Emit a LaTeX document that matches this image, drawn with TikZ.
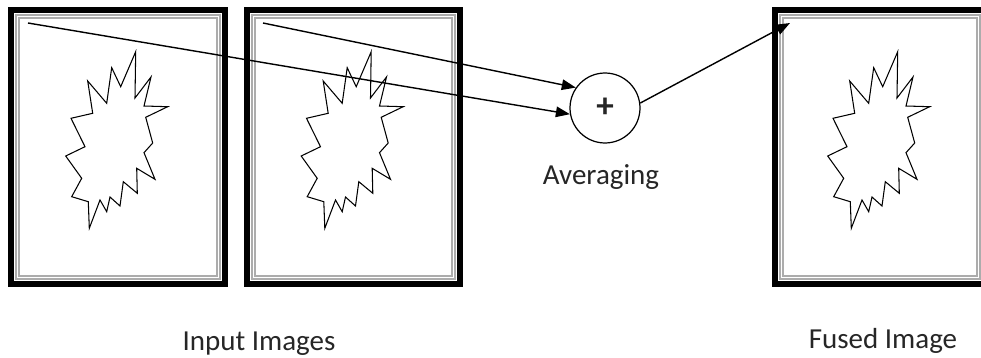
\documentclass[tikz,border=0pt]{standalone}
\usepackage{fontspec}
\setmainfont{Carlito}
\usetikzlibrary{arrows.meta,positioning}
\tikzset{frameout/.style={line width=3.4pt},
  framein/.style={draw=gray!65,line width=0.8pt},
  blob/.style={line width=0.6pt,line join=miter},
  arr/.style={-{Triangle[length=8pt,width=6pt]},line width=0.8pt},
  lbl/.style={font=\fontsize{16.5}{19}\selectfont,text=black!85,inner sep=0pt}}
% spiky blob, centred at (#1,#2), pixel units
\newcommand{\spikyblob}[2]{%
  \draw[blob,shift={(#1,#2)}] (17.7,-95.3)--(17,-49)--(33,-70)--(26,-41)--(49.7,-40.3)
    --(27.7,-29.7)--(34.7,-4)--(26,5.7)--(37,32.3)--(18.7,21.3)--(19.3,46.3)
    --(5.3,34.7)--(2,59)--(-8,50)--(-11.3,64.7)--(-18,53)--(-28.7,81.3)
    --(-29.7,54.7)--(-46.3,49.7)--(-36.3,31.3)--(-52.3,9)--(-33,-0.3)
    --(-47,-28.7)--(-25.3,-33.7)--(-30.3,-66)--(-11.3,-43.7)--(-6.3,-79.3)
    --(2.7,-60.3)--cycle;}

\begin{document}
\begin{tikzpicture}[x=0.02cm,y=-0.02cm]
\useasboundingbox (0,0) rectangle (981,358);
\clip (0,0) rectangle (981,358);
% picture frames: left edge / right edge
\foreach \xa/\xb in {8/228,244/463,772/988}{
  \pgfmathsetmacro{\xc}{(\xa+\xb)/2}
  \draw[frameout] (\xa+3,10) rectangle (\xb-3,284);
  \draw[framein] (\xa+8,15) rectangle (\xb-8,279);
  \draw[framein] (\xa+11,18) rectangle (\xb-11,276);
  \spikyblob{\xc}{147}
}
% averaging node
\node[circle,draw,line width=0.7pt,minimum size=1.4cm,inner sep=0pt,
  font=\bfseries\fontsize{20}{20}\selectfont,text=black!85] (avg) at (605,108) {+};
\node[lbl,anchor=base] (avglbl) at (601,185) {Averaging};
\coordinate (src1) at (28,23);
\coordinate (src2) at (263,23);
\coordinate (dst) at (790,23);
\draw[arr] (src1) -- (avg.190);
\draw[arr] (src2) -- (avg.145);
\draw[arr] (avg.8) -- (dst);
% captions
\node[lbl,anchor=base] (inlbl) at (259,350) {Input Images};
\node[lbl,anchor=base] (outlbl) at (883,348) {Fused Image};
\end{tikzpicture}
\end{document}
